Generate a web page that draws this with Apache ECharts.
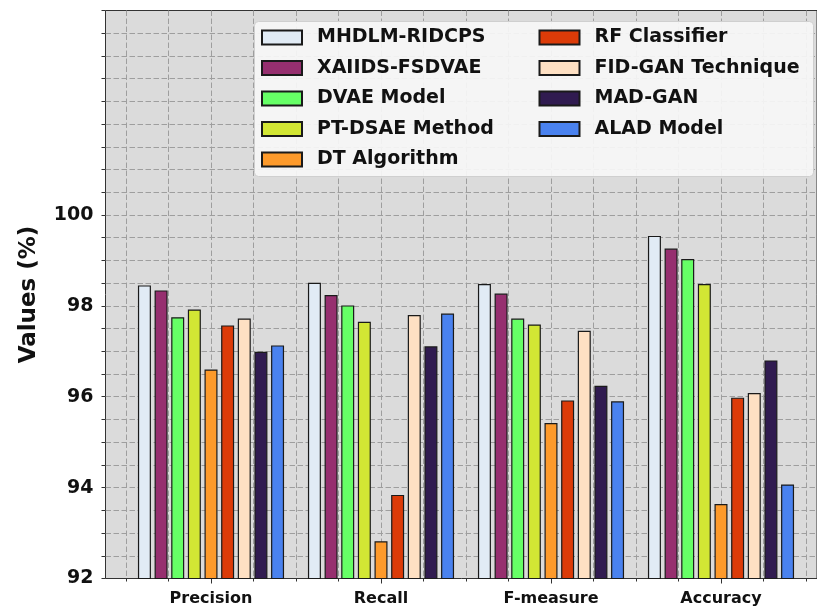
<!DOCTYPE html>
<html>
<head>
<meta charset="utf-8">
<script src="https://cdn.jsdelivr.net/npm/echarts@6/dist/echarts.min.js"></script>
<style>
  html, body { margin: 0; padding: 0; background: #ffffff; }
  #chart { width: 817px; height: 609px; }
</style>
</head>
<body>
<div id="chart"></div>
<script>
// Metric groups along the x axis
const categories = ['Precision', 'Recall', 'F-measure', 'Accuracy'];

// Method names, in legend order
const methods = [
  'MHDLM-RIDCPS', 'XAIIDS-FSDVAE', 'DVAE Model', 'PT-DSAE Method', 'DT Algorithm',
  'RF Classifier', 'FID-GAN Technique', 'MAD-GAN', 'ALAD Model'
];

// Scores (%) per method: [Precision, Recall, F-measure, Accuracy]
const mhdlmRidcps   = [98.45, 98.51, 98.48, 99.54];
const xaiidsFsdvae  = [98.34, 98.24, 98.27, 99.26];
const dvaeModel     = [97.75, 98.01, 97.72, 99.03];
const ptDsaeMethod  = [97.92, 97.65, 97.59, 98.48];
const dtAlgorithm   = [96.60, 92.82, 95.42, 93.64];
const rfClassifier  = [97.57, 93.84, 95.92, 95.98];
const fidGan        = [97.72, 97.80, 97.45, 96.08];
const madGan        = [96.99, 97.11, 96.24, 96.80];
const aladModel     = [97.13, 97.83, 95.90, 94.07];

// Y tick labels that carry text
const yTickLabels = [92, 94, 96, 98, 100];

const seriesValues = [
  mhdlmRidcps, xaiidsFsdvae, dvaeModel, ptDsaeMethod, dtAlgorithm,
  rfClassifier, fidGan, madGan, aladModel
];

const colors = [
  '#e1ebf5', '#962f6f', '#66ff66', '#d2e634', '#fd9a2b',
  '#dc3b08', '#fee0c3', '#301b50', '#4a82ef'
];

const FONT = '"DejaVu Sans", sans-serif';
const gridDash = { color: '#9e9e9e', width: 1, type: [5.5, 2.5] };

const chart = echarts.init(document.getElementById('chart'), null, { renderer: 'canvas' });

const option = {
  animation: false,
  backgroundColor: '#ffffff',
  grid: [
    // plot frame with grey face
    { left: 105.5, right: -10, top: 10.5, bottom: 30.5, show: true,
      backgroundColor: '#dbdbdb', borderColor: '#333333', borderWidth: 1 },
    // bar area: one band per metric
    { left: 126, right: 11, top: 10.5, bottom: 30.5 }
  ],
  xAxis: [
    { gridIndex: 0, type: 'value', min: 0, max: 1, show: false },
    {
      gridIndex: 1, type: 'category', data: categories, position: 'bottom',
      axisLine: { show: false },
      axisTick: { show: true, alignWithLabel: true, length: 5, lineStyle: { color: '#333333' } },
      axisLabel: { color: '#111111', fontFamily: FONT, fontWeight: 'bold', fontSize: 16, margin: 12 },
      splitLine: { show: false }
    },
    {
      gridIndex: 1, type: 'value', min: -0.5, max: 3.5, interval: 0.25, position: 'bottom',
      axisLine: { show: false },
      axisTick: { show: true, length: 3, lineStyle: { color: '#333333' } },
      axisLabel: { show: false },
      splitLine: { show: true, lineStyle: gridDash }
    }
  ],
  yAxis: [
    {
      gridIndex: 0, type: 'value', min: 92, max: 104.5, interval: 0.5,
      name: 'Values (%)', nameLocation: 'middle', nameGap: 65,
      nameTextStyle: { color: '#111111', fontFamily: FONT, fontWeight: 'bold', fontSize: 23 },
      axisLine: { show: false },
      axisTick: { show: true, length: 4, lineStyle: { color: '#333333' } },
      axisLabel: {
        color: '#111111', fontFamily: FONT, fontWeight: 'bold', fontSize: 19, margin: 12,
        formatter: (v) => (yTickLabels.indexOf(v) >= 0 ? String(v) : '')
      },
      splitLine: { show: true, showMinLine: false, showMaxLine: false, lineStyle: gridDash }
    },
    { gridIndex: 1, type: 'value', min: 92, max: 104.5, show: false }
  ],
  legend: {
    data: methods,
    orient: 'vertical',
    left: 254.5, top: 21.5,
    height: 160,
    padding: [5, 6, 6, 6.5],
    itemWidth: 40, itemHeight: 14,
    itemGap: 8.5,
    backgroundColor: 'rgba(247,247,247,0.92)',
    borderColor: '#cfcfcf', borderWidth: 1, borderRadius: 4,
    icon: 'rect',
    textStyle: {
      color: '#111111', fontFamily: FONT, fontWeight: 'bold', fontSize: 19,
      lineHeight: 22, width: 213, padding: [0, 0, 0, 10]
    }
  },
  series: methods.map((name, i) => ({
    name: name,
    type: 'bar',
    xAxisIndex: 1,
    yAxisIndex: 1,
    data: seriesValues[i],
    barWidth: 13,
    barGap: '28%',
    itemStyle: { color: colors[i], borderColor: '#1a1a1a', borderWidth: 1.2 }
  }))
};

chart.setOption(option);
</script>
</body>
</html>
